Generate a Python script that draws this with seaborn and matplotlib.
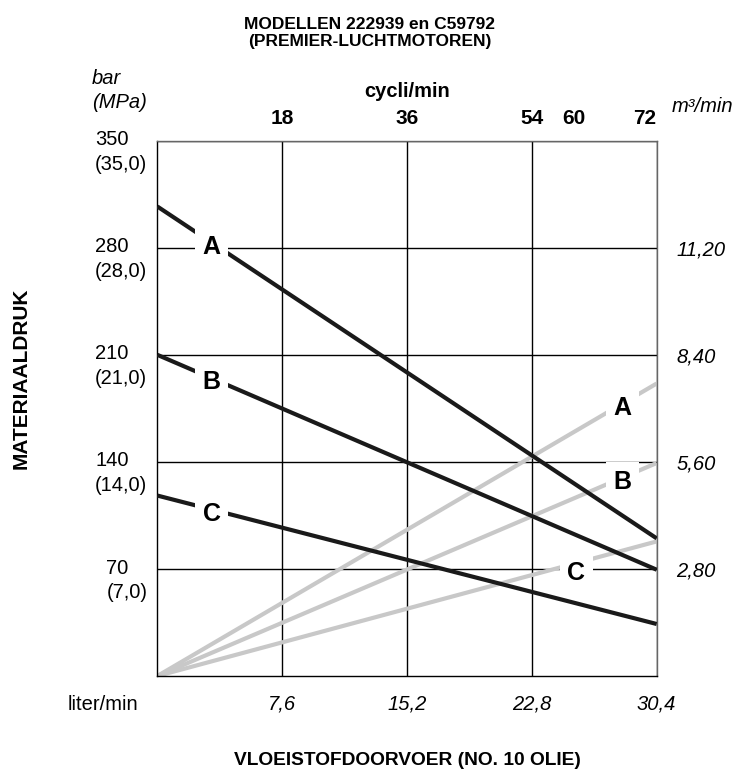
import numpy as np
import pandas as pd
import matplotlib
matplotlib.use("Agg")
import matplotlib.pyplot as plt
import matplotlib.transforms as mtransforms
import seaborn as sns

# ===============================
# data
# ===============================
flow_lpm = [0.0, 30.4]            # liter/min at both ends of each line
pressure_A = [307, 90]            # bar
pressure_B = [210, 69.5]
pressure_C = [118, 34]
air_A = [0.0, 7.65]               # m3/min
air_B = [0.0, 5.57]
air_C = [0.0, 3.52]
curve_names = ["A", "B", "C"]

bar_ticks = [70, 140, 210, 280, 350]
bar_labels = ["70\n(7,0)", "140\n(14,0)", "210\n(21,0)", "280\n(28,0)", "350\n(35,0)"]
flow_ticks = [7.6, 15.2, 22.8, 30.4]
flow_labels = ["7,6", "15,2", "22,8", "30,4"]
cycle_ticks = [18, 36, 54, 60, 72]
air_ticks = [2.8, 5.6, 8.4, 11.2]
air_labels = ["2,80", "5,60", "8,40", "11,20"]

M3_PER_BAR = 0.04                 # right axis scale
CYCLES_PER_LPM = 72 / 30.4        # top axis scale

# ===============================
# long tables for seaborn
# ===============================
df_p = pd.DataFrame({
    "flow": flow_lpm * 3,
    "bar": pressure_A + pressure_B + pressure_C,
    "curve": [c for c in curve_names for _ in flow_lpm],
})
df_a = pd.DataFrame({
    "flow": flow_lpm * 3,
    "m3": air_A + air_B + air_C,
    "curve": [c for c in curve_names for _ in flow_lpm],
})
df_a["bar"] = df_a["m3"] / M3_PER_BAR

sns.set_theme(style="white")
plt.rcParams["font.family"] = ["Liberation Sans", "DejaVu Sans"]
for key in ["text.color", "axes.labelcolor", "xtick.color", "ytick.color"]:
    plt.rcParams[key] = "black"

FS = 14.5

fig = plt.figure(figsize=(7.4, 7.71), dpi=100)
ax = fig.add_axes([0.2126, 0.1232, 0.6748, 0.6943])

sns.lineplot(data=df_a, x="flow", y="bar", hue="curve",
             palette=["#c8c8c8"] * 3, linewidth=3, legend=False,
             sort=False, ax=ax, zorder=2)
sns.lineplot(data=df_p, x="flow", y="bar", hue="curve",
             palette=["#1a1a1a"] * 3, linewidth=3, legend=False,
             sort=False, ax=ax, zorder=3)
for ln in ax.get_lines():
    ln.set_solid_capstyle("butt")

ax.set_xlim(0, 30.4)
ax.set_ylim(0, 350)
ax.set_xticks(flow_ticks)
ax.set_xticklabels(flow_labels, fontstyle="italic", fontsize=FS)
ax.set_yticks(bar_ticks)
ax.set_yticklabels([])
ax.tick_params(axis="both", length=0)
ax.tick_params(axis="x", pad=13)
ax.grid(True, color="black", linewidth=1)
ax.set_axisbelow(True)
ax.set_xlabel("VLOEISTOFDOORVOER (NO. 10 OLIE)", fontweight="bold",
              fontsize=13.8, labelpad=28)
ax.set_ylabel("")
for side in ["left", "bottom"]:
    ax.spines[side].set_color("black")
    ax.spines[side].set_linewidth(1)
for side in ["top", "right"]:
    ax.spines[side].set_color("#666666")
    ax.spines[side].set_linewidth(1)

# left pressure labels (bar + MPa), first line on the gridline
shift = mtransforms.ScaledTranslation(0, 7.5 / 72, fig.dpi_scale_trans)
trans = mtransforms.blended_transform_factory(ax.transAxes, ax.transData) + shift
for v, lab in zip(bar_ticks, bar_labels):
    ax.text(-0.02, v, lab, transform=trans, ha="right", va="top",
            multialignment="left", fontsize=FS, linespacing=1.35,
            clip_on=False)

# top axis: cycli/min
top = ax.secondary_xaxis("top", functions=(lambda l: l * CYCLES_PER_LPM,
                                           lambda c: c / CYCLES_PER_LPM))
top.set_xticks(cycle_ticks)
top.set_xticklabels([str(c) for c in cycle_ticks], fontweight="bold",
                    fontsize=15)
top.tick_params(length=0, pad=9)
top.get_xticklabels()[-1].set_horizontalalignment("right")
top.set_xlabel("cycli/min", fontweight="bold", fontsize=FS, labelpad=9)
top.spines["top"].set_visible(False)

# right axis: m3/min
right = ax.secondary_yaxis("right", functions=(lambda b: b * M3_PER_BAR,
                                               lambda m: m / M3_PER_BAR))
right.set_yticks(air_ticks)
right.set_yticklabels(air_labels, fontstyle="italic", fontsize=FS)
right.tick_params(length=0, pad=14)
right.spines["right"].set_visible(False)

# curve letters sitting on the lines
box = dict(boxstyle="square,pad=0.3", facecolor="white", edgecolor="none")
drop = ax.transData + mtransforms.ScaledTranslation(0, -8 / 72, fig.dpi_scale_trans)
for name, p in zip(curve_names, [pressure_A, pressure_B, pressure_C]):
    ax.text(3.3, np.interp(3.3, flow_lpm, p), name, transform=drop,
            ha="center", va="baseline", fontsize=18, fontweight="bold",
            bbox=box, zorder=5)
for name, a, xpos in zip(curve_names, [air_A, air_B, air_C], [28.3, 28.3, 25.5]):
    ypos = np.interp(xpos, flow_lpm, a) if name != "C" else air_ticks[0]
    ax.text(xpos, ypos / M3_PER_BAR, name, transform=drop,
            ha="center", va="baseline", fontsize=18, fontweight="bold",
            bbox=box, zorder=5)

# loose texts around the frame
fig.text(0.5, 1 - 33 / 771, "MODELLEN 222939 en C59792\n(PREMIER-LUCHTMOTOREN)",
         ha="center", va="center", fontweight="bold", fontsize=12.5,
         linespacing=1.2)
fig.text(92 / 740, 1 - 69 / 771, "bar\n(MPa)", ha="left", va="top",
         fontstyle="italic", fontsize=FS, linespacing=1.35)
fig.text(672 / 740, 1 - 107 / 771, "m³/min", ha="left", va="center",
         fontstyle="italic", fontsize=FS)
fig.text(68 / 740, 1 - 705 / 771, "liter/min", ha="left", va="center",
         fontsize=FS)
fig.text(21 / 740, 1 - 378 / 771, "MATERIAALDRUK", ha="center", va="center",
         rotation=90, fontweight="bold", fontsize=15)

fig.savefig("out.png", dpi=100)
